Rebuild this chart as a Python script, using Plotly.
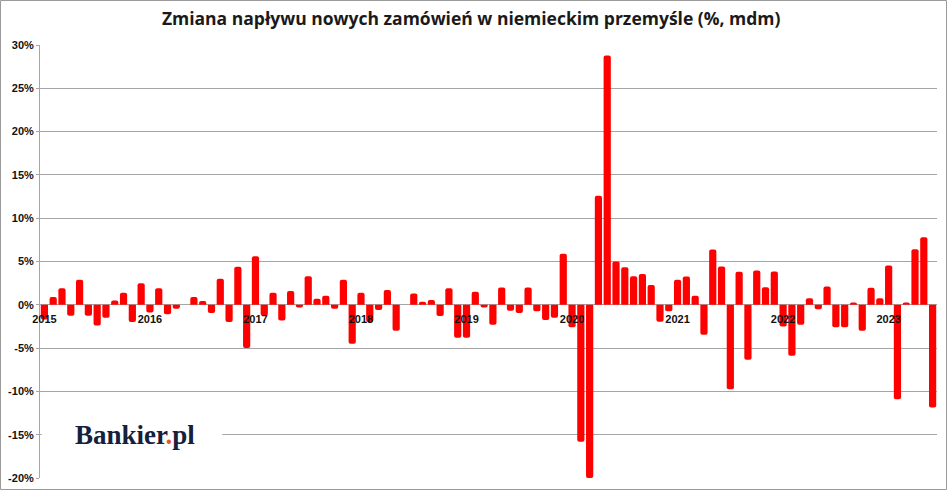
import plotly.graph_objects as go

# monthly change of new orders in German industry, % m/m (Jan 2015 - Jun 2023)
months = ["%d-%02d" % (y, m) for y in range(2015, 2024) for m in range(1, 13)][:102]

change = [
    -1.7, 0.9, 1.9, -1.25, 2.9, -1.25, -2.4, -1.5, 0.5, 1.4, -2.0, 2.5,       # 2015
    -0.9, 1.9, -1.1, -0.45, 0.0, 0.9, 0.45, -0.95, 3.0, -2.0, 4.4, -5.0,      # 2016
    5.6, -1.25, 1.4, -1.8, 1.6, -0.3, 3.3, 0.7, 1.05, -0.45, 2.9, -4.5,       # 2017
    1.4, -2.0, -0.6, 1.7, -3.0, 0.0, 1.3, 0.35, 0.55, -1.3, 1.9, -3.8,        # 2018
    -3.8, 1.5, -0.3, -2.3, 2.0, -0.7, -0.95, 2.0, -0.75, -1.75, -1.5, 5.9,    # 2019
    -2.6, -15.8, -20.0, 12.6, 28.8, 5.0, 4.35, 3.3, 3.55, 2.3, -1.95, -0.75,  # 2020
    2.88, 3.27, 1.05, -3.45, 6.38, 4.42, -9.75, 3.83, -6.35, 3.96, 2.04, 3.85,  # 2021
    -2.5, -5.88, -2.3, 0.77, -0.5, 2.1, -2.58, -2.58, 0.27, -3.0, 1.96, 0.77,   # 2022
    4.54, -10.9, 0.27, 6.42, 7.81, -11.85,                                      # 2023
]

year_ticks = ["%d-01" % y for y in range(2015, 2024)]
year_labels = [str(y) for y in range(2015, 2024)]

y_ticks = [30, 25, 20, 15, 10, 5, 0, -5, -10, -15, -20]
y_labels = ["%d%%" % v for v in y_ticks]

grid = "#a6a6a6"

fig = go.Figure()
fig.add_trace(go.Bar(
    x=months,
    y=change,
    marker=dict(color="#ff0000", line=dict(width=0), cornerradius=2),
    hovertemplate="%{x}: %{y:.1f}%<extra></extra>",
))

fig.update_layout(
    width=948,
    height=491,
    margin=dict(l=40, r=11, t=45, b=13),
    paper_bgcolor="white",
    plot_bgcolor="white",
    showlegend=False,
    bargap=0.18,
    title=dict(
        text="Zmiana napływu nowych zamówień w niemieckim przemyśle (%, mdm)",
        x=0.497, xanchor="center", y=0.962, yanchor="middle",
        font=dict(family="Open Sans", size=17.5, color="#1a1a1a", weight="bold"),
    ),
    font=dict(family="Liberation Sans", color="#111111"),
)

fig.update_xaxes(
    type="category",
    range=[-0.5, 101.5],
    tickvals=year_ticks,
    ticktext=year_labels,
    tickfont=dict(family="Liberation Sans", size=11, color="#111111", weight="bold"),
    anchor="free",
    position=0.4,
    showgrid=False,
    showline=False,
    ticks="",
    ticklabelstandoff=6,
    layer="above traces",
)

fig.update_yaxes(
    range=[-20, 30],
    tickvals=y_ticks,
    ticktext=y_labels,
    tickfont=dict(family="Liberation Sans", size=11, color="#111111", weight="bold"),
    showgrid=True,
    gridcolor=grid,
    gridwidth=1,
    zeroline=False,
    showline=True,
    linecolor=grid,
    ticks="outside",
    ticklen=3,
    tickcolor=grid,
    automargin=False,
)

# white patch behind the logo hides the gridline there
fig.add_shape(type="rect", xref="paper", yref="y",
              x0=0.002, x1=0.203, y0=-17.5, y1=-12.5,
              fillcolor="white", line=dict(width=0), layer="above")

fig.add_annotation(
    xref="paper", yref="y", x=0.037, y=-15.0, xanchor="left", yanchor="middle",
    text="Bankier<span style='color:#e8562a'>.</span>pl",
    showarrow=False,
    font=dict(family="Liberation Serif", size=27, color="#14213d", weight="bold"),
)

# thin frame around the whole picture
fig.add_shape(type="rect", xref="paper", yref="paper",
              x0=-39.5 / 897, x1=906.5 / 897, y0=-11.5 / 433, y1=1 + 44.5 / 433,
              line=dict(color="#9a9a9a", width=1), fillcolor="rgba(0,0,0,0)", layer="above")

# drop the default page margin so the figure sits at the window's corner
fig.write_html("out.html", config={"displayModeBar": False},
               post_script="document.body.style.margin='0';")
